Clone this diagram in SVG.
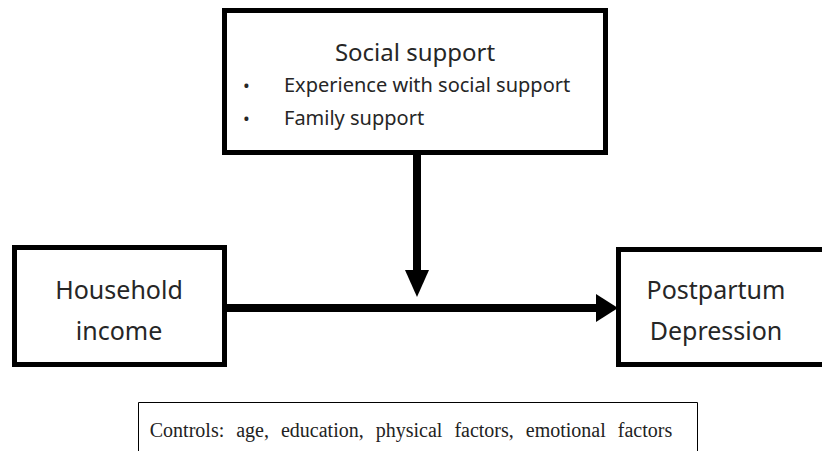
<svg xmlns="http://www.w3.org/2000/svg" width="822" height="451" viewBox="0 0 822 451">
<style>
.box{fill:#fff;stroke:#000;stroke-width:5}
.sans{font-family:"Noto Sans","Open Sans","DejaVu Sans",sans-serif;fill:#262626}
.serif{font-family:"Liberation Serif","Times New Roman",serif;fill:#222}
.conn{stroke:#000;stroke-width:8;fill:none}
.head{fill:#000}
</style>
<rect width="822" height="451" fill="#fff"/>
<g id="connectors">
<line class="conn" x1="227" y1="308" x2="598" y2="308"/>
<path class="head" d="M596,294 L618,308 L596,322 Z"/>
<line class="conn" x1="417" y1="155" x2="417" y2="272"/>
<path class="head" d="M405,270 L417,297 L429,270 Z"/>
</g>
<g id="social-support">
<rect class="box" x="224.5" y="10.5" width="381" height="142"/>
<text class="sans" x="415" y="61" font-size="24" text-anchor="middle">Social support</text>
<text class="sans" x="243" y="92" font-size="18">•</text>
<text class="sans" x="284" y="92" font-size="20">Experience with social support</text>
<text class="sans" x="243" y="125" font-size="18">•</text>
<text class="sans" x="284" y="125" font-size="20">Family support</text>
</g>
<g id="household-income">
<rect class="box" x="14.5" y="247.5" width="210" height="117"/>
<text class="sans" x="119" y="299" font-size="25" text-anchor="middle">Household</text>
<text class="sans" x="119" y="340" font-size="25" text-anchor="middle">income</text>
</g>
<g id="postpartum-depression">
<rect class="box" x="618.5" y="249.5" width="210" height="115"/>
<text class="sans" x="716" y="299" font-size="25" text-anchor="middle">Postpartum</text>
<text class="sans" x="716" y="340" font-size="25" text-anchor="middle">Depression</text>
</g>
<g id="controls">
<path d="M138.5,451 V402.5 H697.5 V451" fill="none" stroke="#000" stroke-width="1"/>
<text class="serif" x="411" y="437" font-size="20" word-spacing="7" text-anchor="middle">Controls: age, education, physical factors, emotional factors</text>
</g>
</svg>
